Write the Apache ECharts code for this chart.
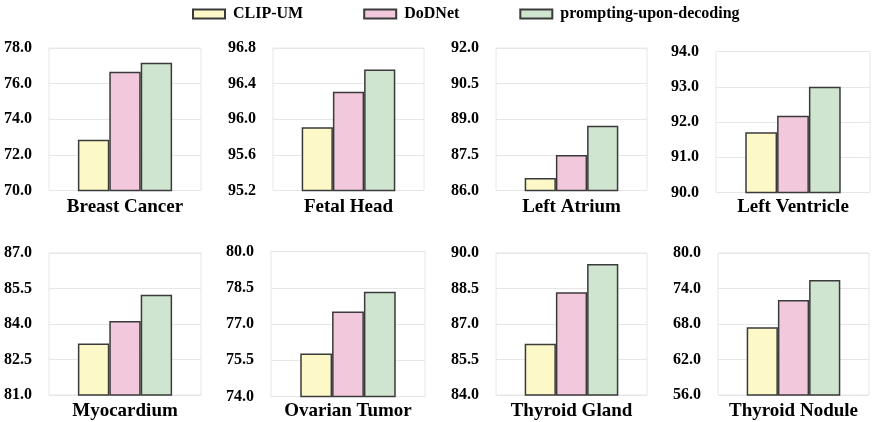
<!DOCTYPE html>
<html>
<head>
<meta charset="utf-8">
<script src="https://cdn.jsdelivr.net/npm/echarts@6/dist/echarts.min.js"></script>
<style>
html,body{margin:0;padding:0;background:#fff;}
#chart{width:873px;height:422px;}
</style>
</head>
<body>
<div id="chart"></div>
<script>
const categories = ['Breast Cancer', 'Fetal Head', 'Left Atrium', 'Left Ventricle', 'Myocardium', 'Ovarian Tumor', 'Thyroid Gland', 'Thyroid Nodule'];
const seriesNames = ['CLIP-UM', 'DoDNet', 'prompting-upon-decoding'];
const clipUM = [72.85, 95.91, 86.53, 91.71, 83.18, 75.78, 86.17, 67.44];
const dodnet = [76.67, 96.31, 87.50, 92.18, 84.13, 77.52, 88.34, 72.06];
const prompting = [77.17, 96.56, 88.73, 93.00, 85.24, 78.33, 89.53, 75.44];
const yMin = [70, 95.2, 86, 90, 81, 74, 84, 56];
const yMax = [78, 96.8, 92, 94, 87, 80, 90, 80];
const yInterval = [2, 0.4, 1.5, 1, 1.5, 1.5, 1.5, 6];

const colors = ['#FCF8C8', '#F1C8DC', '#D0E5D0'];
const FONT = '"Liberation Serif", "Times New Roman", serif';
const gridBoxes = [
  [49, 48, 152, 142.5], [273, 48, 151, 142.5], [496, 48, 151, 142.5], [716, 51.5, 154, 141],
  [49, 253, 152, 142], [271, 251.5, 154, 145], [496, 253, 151, 142], [718, 253, 151, 142]
];
const labelMargins = [7, 7, 7, 5, 7, 5.5, 7, 7];
const allValues = [clipUM, dodnet, prompting];

const grids = [], xAxes = [], yAxes = [], series = [];
categories.forEach((cat, i) => {
  const g = gridBoxes[i];
  grids.push({left: g[0], top: g[1], width: g[2], height: g[3], show: true,
    borderColor: '#e6e6e6', borderWidth: 1, containLabel: false});
  xAxes.push({type: 'category', gridIndex: i, data: [cat],
    axisLine: {show: false}, axisTick: {show: false},
    axisLabel: {fontFamily: FONT, fontWeight: 'bold', fontSize: 19, color: '#000', margin: labelMargins[i]}});
  yAxes.push({type: 'value', gridIndex: i, min: yMin[i], max: yMax[i], interval: yInterval[i],
    axisLine: {show: false}, axisTick: {show: false},
    splitLine: {show: true, lineStyle: {color: '#e6e6e6', width: 1}},
    axisLabel: {fontFamily: FONT, fontWeight: 'bold', fontSize: 16, color: '#000', margin: 17,
      formatter: v => v.toFixed(1)}});
  allValues.forEach((vals, s) => {
    series.push({type: 'bar', name: seriesNames[s], xAxisIndex: i, yAxisIndex: i,
      data: [vals[i]], barGap: '0%', barCategoryGap: '38%',
      itemStyle: {color: colors[s], borderColor: '#3a3a3a', borderWidth: 1.5}});
  });
});

const chart = echarts.init(document.getElementById('chart'), null, {renderer: 'canvas'});
chart.setOption({
  animation: false,
  backgroundColor: '#fff',
  legend: {data: seriesNames, left: 187, top: 1, itemWidth: 32, itemHeight: 9, itemGap: 60,
    icon: 'rect',
    textStyle: {fontFamily: FONT, fontWeight: 'bold', fontSize: 16, color: '#000', padding: [0, 0, 0, 3]}},
  grid: grids,
  xAxis: xAxes,
  yAxis: yAxes,
  series: series
});
</script>
</body>
</html>
